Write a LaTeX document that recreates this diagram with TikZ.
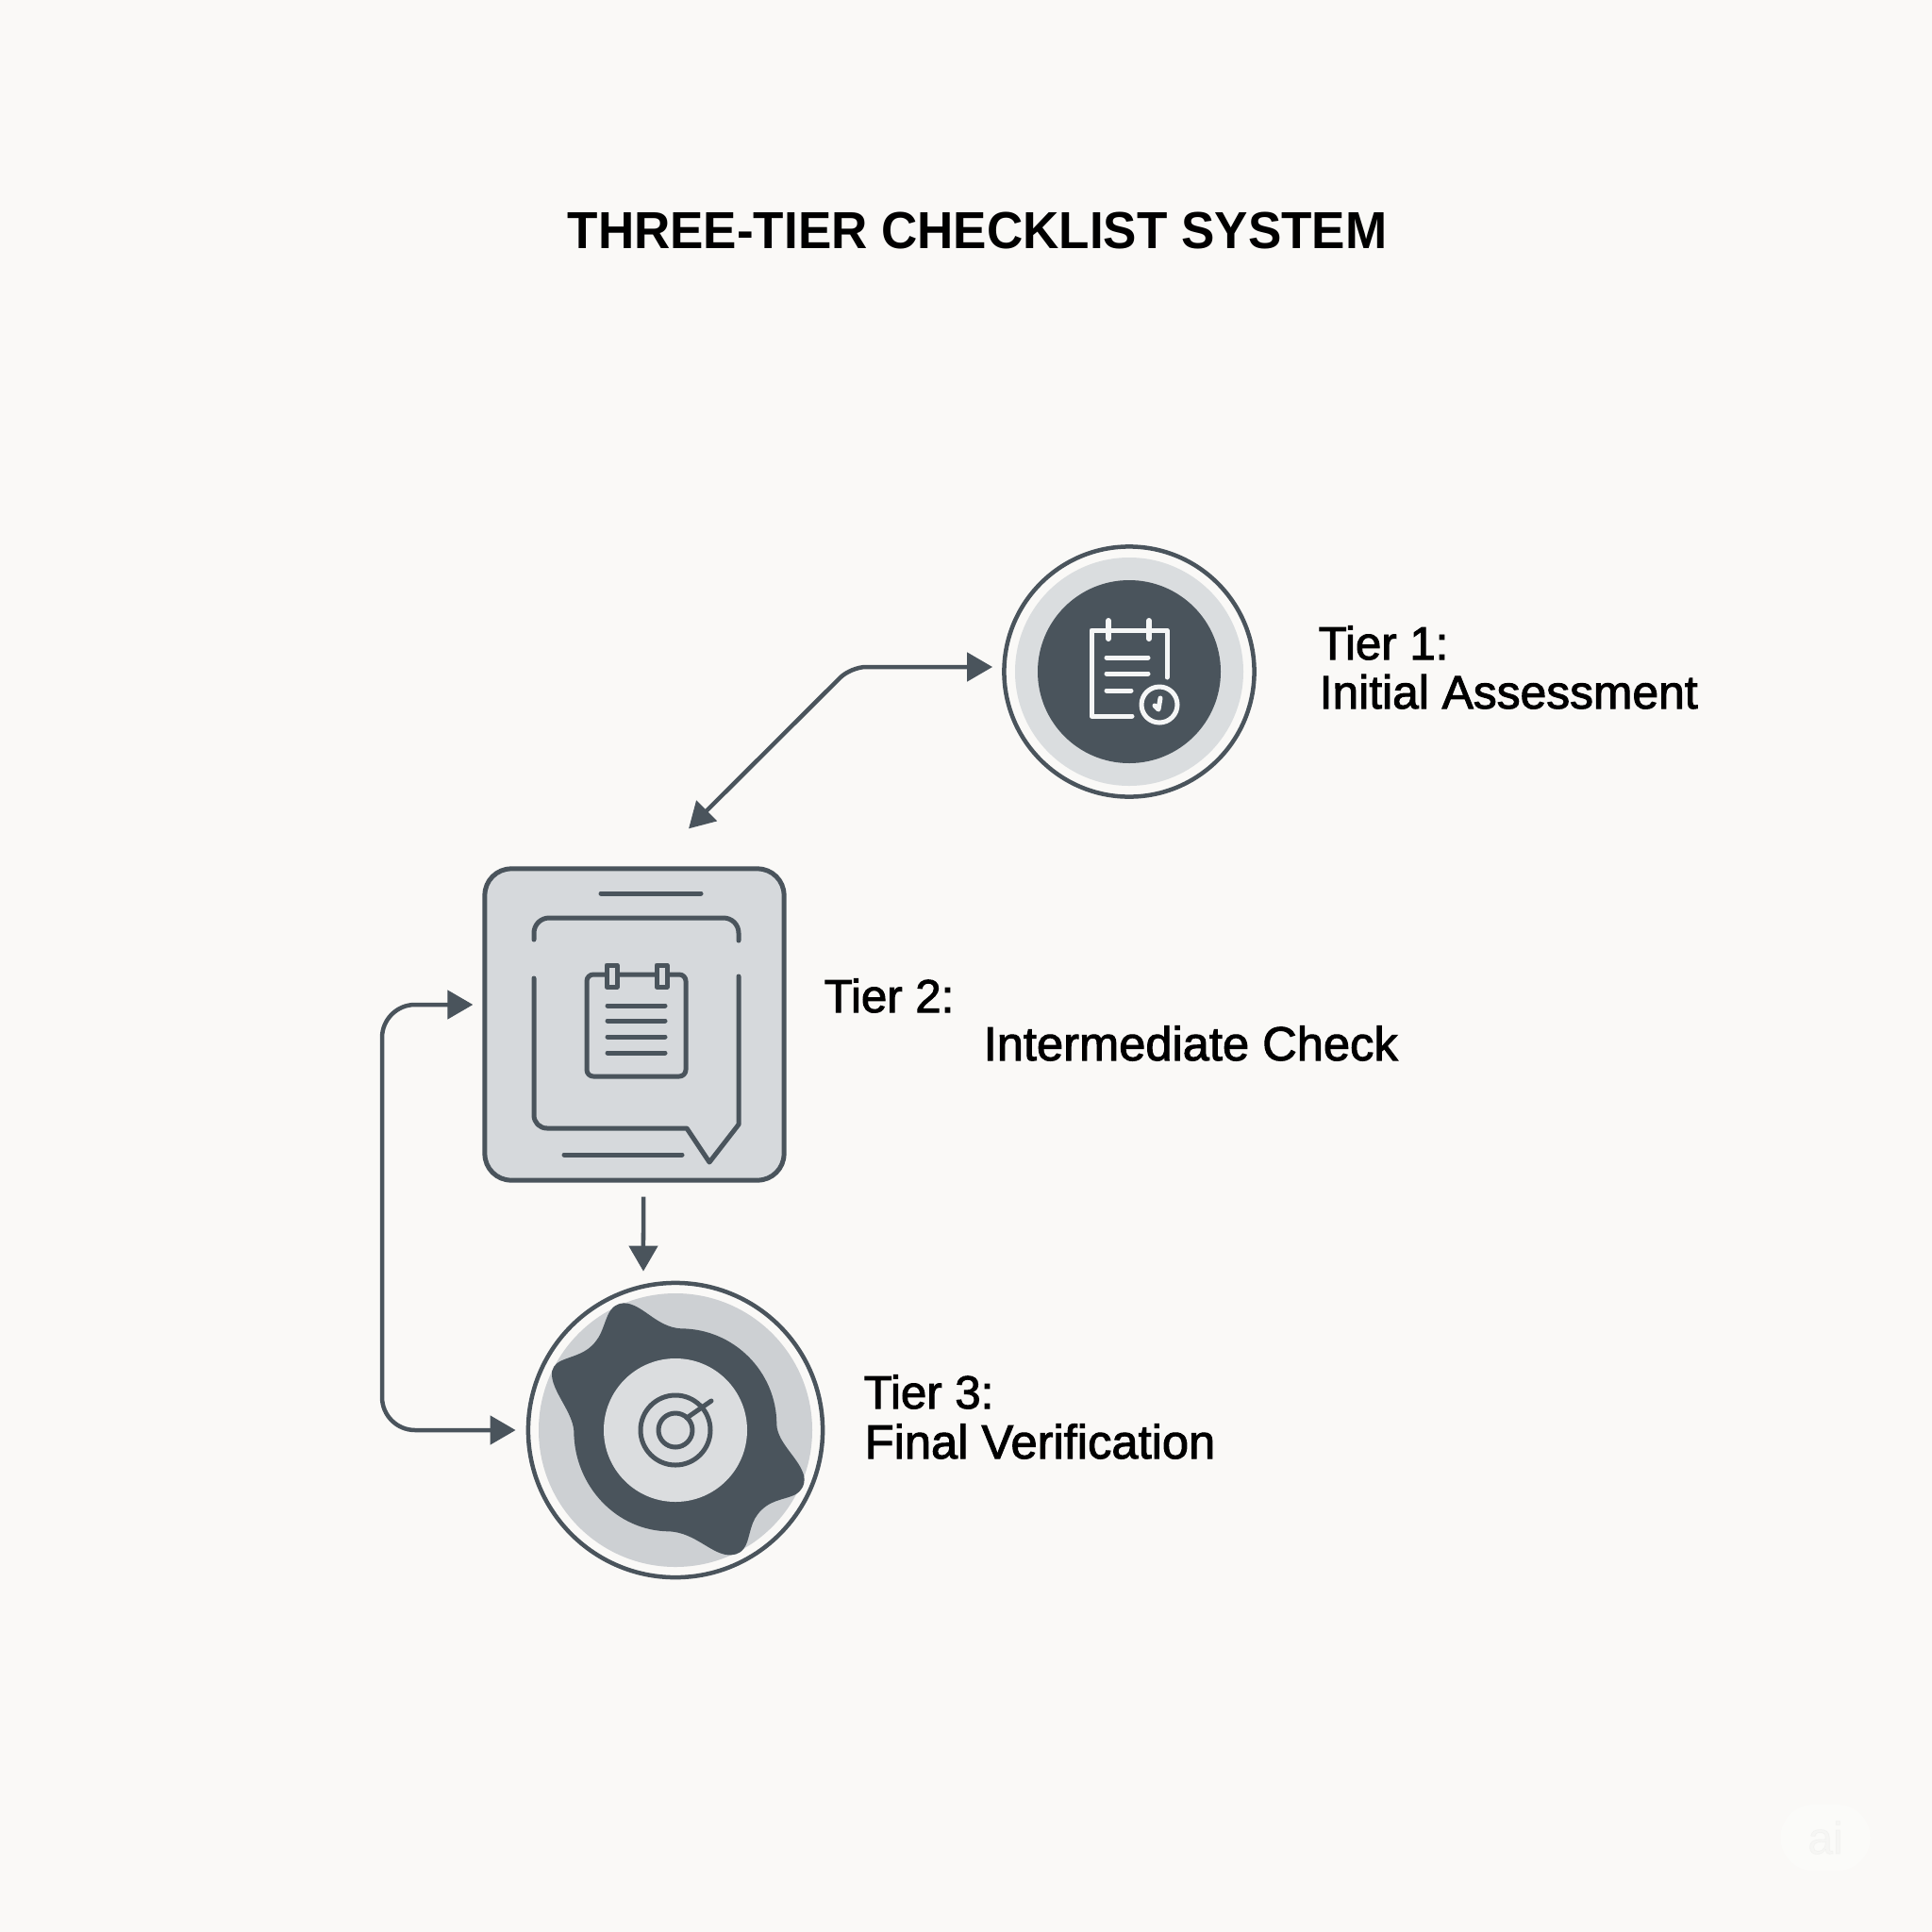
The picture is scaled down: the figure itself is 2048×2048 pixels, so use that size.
\documentclass[tikz,border=0pt]{standalone}
\usepackage{fontspec}
\usetikzlibrary{arrows.meta}
\setmainfont{Liberation Sans}
\newfontfamily\titlefont[FakeStretch=.96]{Liberation Sans Bold}
\newfontfamily\tierfont[FakeBold=2]{Liberation Sans}
\definecolor{paper}{HTML}{FAF9F7}
\definecolor{ink}{HTML}{4A545C}
\definecolor{pale}{HTML}{F5F6F6}
\definecolor{ringone}{HTML}{DADDDF}
\definecolor{boxgrey}{HTML}{D6D9DC}
\definecolor{ringthree}{HTML}{CDD0D3}
\definecolor{hubgrey}{HTML}{DBDDDF}
\tikzset{
	flow/.style={draw=ink,line width=.045cm,{Triangle[length=.27cm,width=.3cm]}-{Triangle[length=.27cm,width=.3cm]}},
	oneway/.style={draw=ink,line width=.045cm,-{Triangle[length=.27cm,width=.3cm]}},
	tierdisc/.style={circle,draw=ink,line width=.045cm,fill=paper,inner sep=0},
	tierbox/.style={rectangle,rounded corners=.28cm,draw=ink,line width=.05cm,fill=boxgrey,inner sep=0},
	tierlabel/.style={anchor=base west,inner sep=0,text=black,font=\tierfont\fontsize{14}{16}\selectfont},
	tiertext/.style={tierlabel,font=\tierfont\fontsize{14.4}{16}\selectfont},
	thin ink/.style={draw=ink,line width=.05cm,line cap=round,line join=round},
	thin pale/.style={draw=pale,line width=.05cm,line cap=round,line join=round}
}
\begin{document}
\begin{tikzpicture}[x=.01cm,y=-.01cm]
	\fill[paper] (0,0) rectangle (2048,2048);
	\useasboundingbox (0,0) rectangle (2048,2048);
	\node[anchor=base,inner sep=0,text=black,font=\titlefont\fontsize{15.7}{18}\selectfont] (title) at (1036,263) {THREE-TIER CHECKLIST SYSTEM};

	\node[tierdisc,minimum size=2.65cm] (tierone) at (1197,712) {};
	\fill[ringone] (tierone.center) circle (121);
	\fill[ink] (tierone.center) circle (97);
	\draw[thin pale] (1237,718) -- (1237,668) -- (1157,668) -- (1157,759) -- (1200,759);
	\foreach \x in {1175,1218}
		\draw[thin pale,line width=.06cm] (\x,658) -- (\x,677);
	\foreach \y/\xend in {697/1217,714/1217,732/1199}
		\draw[thin pale] (1173,\y) -- (\xend,\y);
	\draw[thin pale] (1229,747) circle (19);
	\draw[thin pale] (1230,740) -- (1228,752) -- (1224,748);
	\node[tierlabel] (onehead) at (1397,699) {Tier 1:};
	\node[tiertext,font=\tierfont\fontsize{14.15}{16}\selectfont] (onetext) at (1398,751) {Initial Assessment};

	\node[tierbox,minimum width=3.17cm,minimum height=3.30cm] (tiertwo) at (672.5,1086) {};
	\draw[thin ink] (637,947) -- (743,947);
	\draw[thin ink] (598,1224) -- (723,1224);
	\draw[thin ink,rounded corners=.16cm] (566,996) -- (566,973) -- (783,973) -- (783,997);
	\draw[thin ink] (566,1037) -- (566,1182) .. controls (566,1190) and (572,1196) .. (580,1196) -- (728,1196) -- (752,1232) -- (783,1192) -- (783,1035);
	\draw[thin ink,rounded corners=.07cm] (622,1033) rectangle (727,1141);
	\foreach \x in {643,696}
		\draw[thin ink,fill=boxgrey,line cap=butt] (\x,1023) rectangle (\x+11,1046);
	\foreach \y in {1066,1082,1099,1116}
		\draw[thin ink] (644,\y) -- (705,\y);
	\node[tierlabel] (twohead) at (873,1073) {Tier 2:};
	\node[tiertext] (twotext) at (1042,1124) {Intermediate Check};

	\node[tierdisc,minimum size=3.12cm] (tierthree) at (716,1516) {};
	\fill[ringthree] (tierthree.center) circle (145);
	\begin{scope}[shift={(540,1340)},scale=1/3]
		\fill[ink] (545,205) .. controls (713,205) and (850,342) .. (850,510)
			.. controls (852,570) and (925,620) .. (937,675)
			.. controls (942,705) and (925,725) .. (905,735)
			.. controls (870,750) and (825,750) .. (790,795)
			.. controls (762,830) and (765,880) .. (745,905)
			.. controls (730,925) and (710,925) .. (695,925)
			.. controls (640,920) and (590,855) .. (510,850)
			.. controls (342,850) and (205,706) .. (205,530)
			.. controls (200,470) and (140,410) .. (135,355)
			.. controls (132,335) and (145,315) .. (165,307)
			.. controls (205,290) and (245,285) .. (275,245)
			.. controls (300,215) and (305,165) .. (325,143)
			.. controls (340,125) and (360,122) .. (375,125)
			.. controls (430,135) and (470,200) .. (545,205) -- cycle;
	\end{scope}
	\fill[hubgrey] (tierthree.center) circle (76);
	\draw[thin ink] (tierthree.center) circle (37);
	\draw[thin ink] (tierthree.center) circle (18);
	\draw[thin ink] (728,1503) -- (754,1485);
	\node[tierlabel] (threehead) at (915,1493) {Tier 3:};
	\node[tiertext] (threetext) at (916,1546) {Final Verification};

	\coordinate (oneport) at ([xshift=-.10cm,yshift=.05cm]tierone.west);
	\coordinate (twoport) at ([xshift=.575cm,yshift=.40cm]tiertwo.north);
	\coordinate (twoleft) at ([xshift=-.10cm,yshift=.21cm]tiertwo.west);
	\coordinate (twofoot) at ([xshift=.095cm,yshift=-.15cm]tiertwo.south);
	\coordinate (threetop) at ([xshift=-.34cm,yshift=.10cm]tierthree.north);
	\coordinate (threeport) at ([xshift=-.11cm]tierthree.west);
	\coordinate (railleft) at (405,1300);
	\coordinate (bendone) at (902,707);
	\draw[flow,rounded corners=.16cm] (oneport) -- (bendone) -- (twoport);
	\draw[oneway] (twofoot) -- (threetop);
	\draw[flow,rounded corners=.35cm] (twoleft) -- (twoleft -| railleft) -- (threeport -| railleft) -- (threeport);

	\node[draw=none,fill=white,fill opacity=.35,rounded corners=.35cm,minimum width=.95cm,minimum height=.7cm,inner sep=0] (badge) at (1935,1948) {};
	\node[inner sep=0,text=black,text opacity=.02,font=\tierfont\fontsize{13.6}{16}\selectfont] (badgetext) at (badge.center) {ai};
\end{tikzpicture}
\end{document}
